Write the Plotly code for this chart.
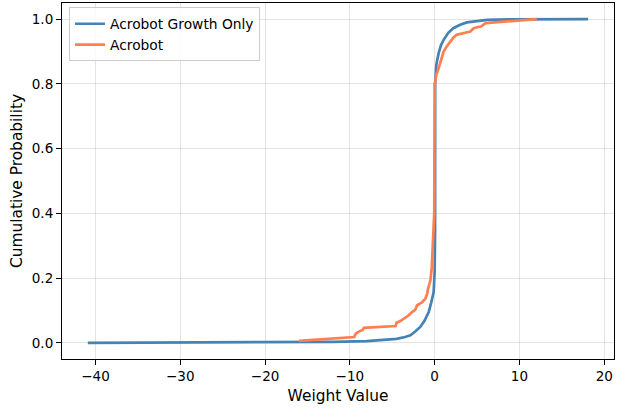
import plotly.graph_objects as go

# Acrobot Growth Only (blue) CDF points
growth_x = [-40.9, -20.0, -12.0, -8.0, -6.0, -4.5, -3.5, -2.86, -2.3, -1.7, -1.2, -0.7, -0.4,
            -0.12, 0.0, 0.05, 0.06, 0.08, 0.2, 0.47, 0.75, 1.06, 1.6, 2.2, 3.0, 3.8, 5.0, 6.2,
            9.0, 18.1]
growth_y = [0.000, 0.001, 0.003, 0.005, 0.008, 0.012, 0.018, 0.023, 0.035, 0.049, 0.068, 0.095,
            0.125, 0.157, 0.22, 0.35, 0.80, 0.82, 0.86, 0.895, 0.92, 0.936, 0.958, 0.972, 0.983,
            0.990, 0.995, 0.998, 0.9995, 1.0]

# Acrobot (orange) CDF points
acro_x = [-16.0, -14.0, -12.3, -9.5, -9.3, -9.0, -8.5, -8.35, -4.6, -4.5, -4.0, -3.5, -3.06,
          -2.8, -2.3, -2.07, -1.5, -1.1, -0.9, -0.78, -0.6, -0.5, -0.35, -0.3, -0.15, -0.05,
          0.0, 0.08, 0.2, 0.3, 0.47, 0.7, 1.06, 1.4, 1.85, 2.2, 2.6, 3.2, 4.2, 4.6, 5.5, 6.0,
          7.7, 10.0, 12.05]
acro_y = [0.006, 0.010, 0.014, 0.018, 0.028, 0.034, 0.040, 0.046, 0.052, 0.062, 0.068, 0.076,
          0.085, 0.092, 0.102, 0.116, 0.125, 0.136, 0.150, 0.167, 0.180, 0.193, 0.230, 0.260,
          0.340, 0.400, 0.800, 0.808, 0.830, 0.835, 0.849, 0.870, 0.900, 0.915, 0.931, 0.943,
          0.952, 0.955, 0.962, 0.972, 0.978, 0.988, 0.992, 0.996, 1.0]

x_ticks = [-40, -30, -20, -10, 0, 10, 20]
y_ticks = [0.0, 0.2, 0.4, 0.6, 0.8, 1.0]

FONT = "DejaVu Sans"

fig = go.Figure()
fig.add_trace(go.Scatter(x=growth_x, y=growth_y, mode="lines", name="Acrobot Growth Only",
                         line=dict(color="#4682B4", width=2.7)))
fig.add_trace(go.Scatter(x=acro_x, y=acro_y, mode="lines", name="Acrobot",
                         line=dict(color="#FF7F50", width=2.7)))

axis_common = dict(showline=True, linecolor="black", linewidth=1.1, mirror=True,
                   ticks="outside", ticklen=5, tickwidth=1, tickcolor="black",
                   showgrid=True, gridcolor="rgba(176,176,176,0.35)", gridwidth=1,
                   zeroline=False, automargin=False,
                   tickfont=dict(family=FONT, size=13.5, color="black"))

fig.update_layout(
    width=622, height=410,
    margin=dict(l=62, r=8, t=3, b=51),
    paper_bgcolor="white", plot_bgcolor="white",
    font=dict(family=FONT, size=13, color="black"),
    showlegend=True,
    legend=dict(x=0.0127, y=0.988, xanchor="left", yanchor="top",
                bgcolor="rgba(255,255,255,0.8)", bordercolor="#cccccc", borderwidth=1,
                font=dict(family=FONT, size=13.8, color="black"), itemwidth=30,
                tracegroupgap=0),
    xaxis=dict(range=[-43.95, 21.15], tickvals=x_ticks,
               title=dict(text="Weight Value", font=dict(family=FONT, size=15.4), standoff=6),
               **axis_common),
    yaxis=dict(range=[-0.05, 1.05], tickvals=y_ticks, tickformat=".1f",
               title=dict(text="Cumulative Probability", font=dict(family=FONT, size=15.4), standoff=5),
               **axis_common),
)

fig.write_html("out.html", config={"displayModeBar": False},
               post_script="document.body.style.margin='0';")
